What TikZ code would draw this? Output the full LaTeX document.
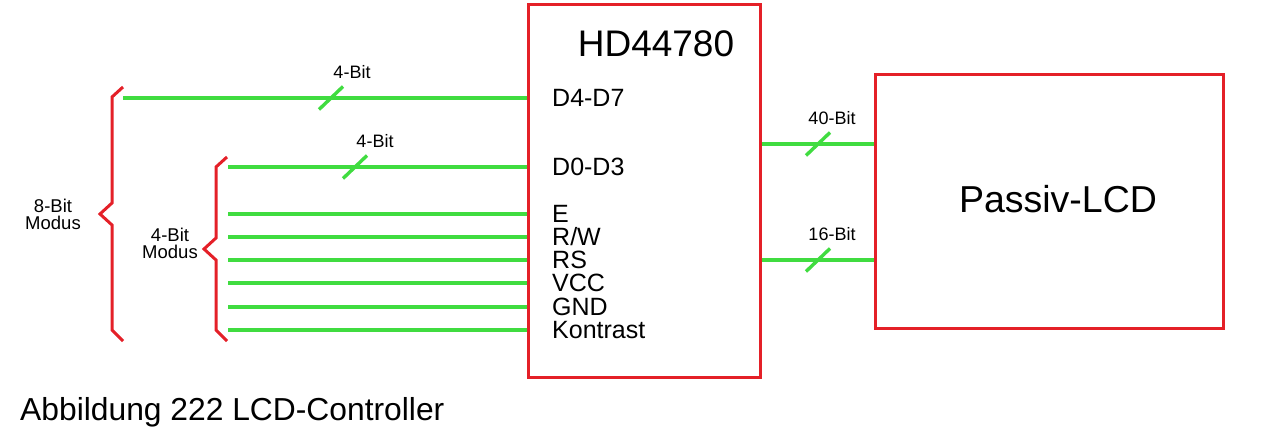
\documentclass[tikz,border=0pt]{standalone}
\usepackage{fontspec}
\setmainfont{Liberation Sans}
\definecolor{lcdcolorred}{RGB}{228,32,40}
\definecolor{lcdcolorgreen}{RGB}{64,220,64}

\begin{document}
\begin{tikzpicture}[yscale=-1
                ,boxstyle/.style={draw=lcdcolorred,line width=3pt,inner sep=0pt}
                ,wirestyle/.style={draw=lcdcolorgreen,line width=3.4pt}
                ,bracestyle/.style={draw=lcdcolorred,line width=3pt}
                ,pinstyle/.style={anchor=west,inner sep=0pt,color=black,font=\fontsize{25pt}{25pt}\selectfont}
                ,buslabel/.style={inner sep=0pt,color=black,font=\fontsize{18pt}{18pt}\selectfont}
                ,modelabel/.style={align=center,inner sep=0pt,color=black,font=\fontsize{18.5pt}{17pt}\selectfont}
                ,bigtext/.style={inner sep=0pt,color=black,font=\fontsize{37.5pt}{37.5pt}\selectfont}
            ]
            \useasboundingbox (0pt,0pt) rectangle (1261pt,438pt);
            \node[boxstyle,minimum width=232pt,minimum height=372pt] (hd) at (644pt,191pt) {};
            \node[bigtext,font=\fontsize{37pt}{37pt}\selectfont] (hdname) at (656pt,44pt) {HD44780};
            \node[boxstyle,minimum width=348pt,minimum height=254pt] (lcd) at (1049pt,202pt) {};
            \node[bigtext] (lcdname) at (1058pt,199pt) {Passiv-LCD};
            \foreach \pname/\px/\py/\ptext in {dhi/123/98/D4-D7,dlo/228/167/D0-D3,e/228/214/E,rw/228/237/{R/W},rs/228/260/RS,vcc/228/283/VCC,gnd/228/307/GND,kon/228/330/Kontrast}{
                \node[pinstyle] (pin\pname) at (552pt,\py pt) {\ptext};
                \coordinate (w\pname) at (\px pt,\py pt);
                \draw[wirestyle] (w\pname) -- (hd.west |- pin\pname);
            }
            \coordinate (sdhi) at (331pt,98pt);
            \coordinate (sdlo) at (355pt,167pt);
            \coordinate (sforty) at (818pt,144pt);
            \coordinate (ssixteen) at (818pt,260pt);
            \draw[wirestyle] (hd.east |- sforty) -- (lcd.west |- sforty);
            \draw[wirestyle] (hd.east |- ssixteen) -- (lcd.west |- ssixteen);
            \foreach \sname in {sdhi,sdlo,sforty,ssixteen}{
                \draw[wirestyle] (\sname) ++(-12pt,11.5pt) -- ++(24pt,-23pt);
            }
            \node[buslabel] (bdhi) at (352pt,72pt) {4-Bit};
            \node[buslabel] (bdlo) at (375pt,141pt) {4-Bit};
            \node[buslabel] (bforty) at (832pt,118pt) {40-Bit};
            \node[buslabel] (bsixteen) at (832pt,234pt) {16-Bit};
            \draw[bracestyle] (123pt,87pt) -- (112pt,97pt) -- (112pt,203pt) -- (100pt,214pt) -- (112pt,225pt) -- (112pt,330pt) -- (123pt,341pt);
            \draw[bracestyle] (227pt,157pt) -- (216pt,167pt) -- (216pt,238pt) -- (204pt,249pt) -- (216pt,260pt) -- (216pt,330pt) -- (227pt,341pt);
            \node[modelabel] (meight) at (53pt,214pt) {8-Bit\\Modus};
            \node[modelabel] (mfour) at (170pt,243pt) {4-Bit\\Modus};
            \node[anchor=base west,inner sep=0pt,color=black,font=\fontsize{31.8pt}{31.8pt}\selectfont] (caption) at (20pt,420pt) {Abbildung 222 LCD-Controller};
        \end{tikzpicture}
\end{document}
